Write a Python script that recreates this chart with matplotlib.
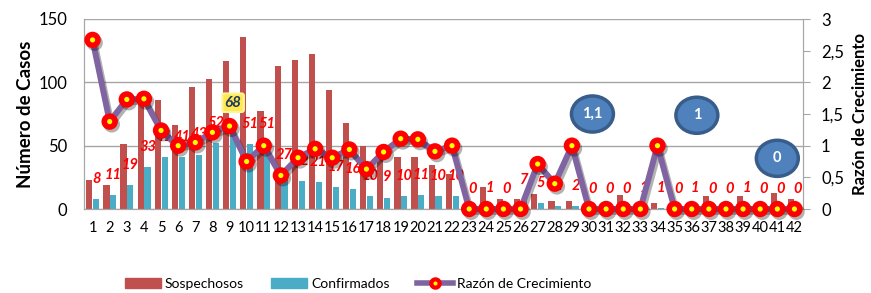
import matplotlib.pyplot as plt
import matplotlib.patheffects as pe
from matplotlib.patches import Ellipse
from matplotlib.lines import Line2D
from matplotlib.patches import Patch
from matplotlib.ticker import FuncFormatter

plt.rcParams['font.family'] = ['Lato', 'DejaVu Sans']

# data
dias = list(range(1, 43))
sospechosos = [23, 19, 51, 86, 86, 66, 96, 103, 117, 136, 77, 113, 118, 122,
               94, 68, 50, 43, 41, 41, 35, 28, 3, 17, 8, 8, 12, 6, 6, 3,
               3, 11, 3, 5, 2, 3, 10, 3, 10, 3, 13, 8]
confirmados = [8, 11, 19, 33, 41, 41, 43, 52, 68, 51, 51, 27, 22, 21, 17, 16,
               10, 9, 10, 11, 10, 10, 0, 1, 0, 7, 5, 2, 2, 0, 0, 0, 1, 1,
               0, 1, 0, 0, 1, 0, 0, 0]
razon = [2.67, 1.38, 1.73, 1.74, 1.24, 1.0, 1.05, 1.21, 1.31, 0.75, 1.0, 0.53,
         0.81, 0.95, 0.81, 0.94, 0.63, 0.9, 1.11, 1.1, 0.91, 1.0, 0, 0, 0, 0,
         0.71, 0.4, 1.0, 0, 0, 0, 0, 1.0, 0, 0, 0, 0, 0, 0, 0, 0]
# blue callouts: (x, y on ratio axis, text)
burbujas = [(30.2, 1.5, "1,1"), (36.3, 1.48, "1"), (41.0, 0.8, "0")]

ROJO = "#C0504D"
AZUL = "#4BACC6"
MORADO = "#8064A2"
GRIS = "#A6A6A6"

fig = plt.figure(figsize=(8.71, 2.93), dpi=100)
ax = fig.add_axes([84 / 871, 1 - 209 / 293, 719 / 871, 190 / 293])
ax2 = ax.twinx()

# bars
xr = [d - 0.19 for d in dias]
xb = [d + 0.21 for d in dias]
ax.bar(xr, sospechosos, width=0.36, color=ROJO, zorder=2)
ax.bar(xb, confirmados, width=0.36, color=AZUL, zorder=2)

# data labels for confirmados
for x, v, d in zip(xb, confirmados, dias):
    if d == 9:
        ax.annotate(str(v), (x, v), xytext=(0, 14.5), textcoords="offset points",
                    ha="center", va="center", fontsize=11, fontweight="bold",
                    fontstyle="italic", color="#1F3864", zorder=5,
                    bbox=dict(boxstyle="round,pad=0.15", fc="#FFE94D", ec="#FFF3A0", lw=1.5))
    else:
        ax.annotate(str(v), (x, v), xytext=(0, 14.5), textcoords="offset points",
                    ha="center", va="center", fontsize=10.5, fontweight="bold",
                    fontstyle="italic", color="#FF0000", zorder=5)

ax.set_xlim(0.5, 42.5)
ax.set_ylim(0, 150)
ax.set_yticks([0, 50, 100, 150])
ax.set_xticks(dias)
ax.set_xticklabels([str(d) for d in dias], fontsize=10.5)
ax.tick_params(axis="x", length=0, pad=9)
ax.tick_params(axis="y", length=0, labelsize=12, pad=12)
ax.grid(axis="y", color=GRIS, lw=1, zorder=0)
ax.set_axisbelow(True)
ax.set_ylabel("Número de Casos", fontsize=13.5, fontweight="bold", labelpad=3)

# ratio line
ax2.plot(dias, razon, color=MORADO, lw=4.3, marker="o", ms=7.8, mfc="#FFFF00",
         mec="#FF0000", mew=4, zorder=3, clip_on=False,
         path_effects=[pe.SimpleLineShadow(offset=(1.5, -2), shadow_color="k", alpha=0.3),
                       pe.Normal()])
ax2.set_ylim(0, 3)
ax2.set_yticks([0, 0.5, 1, 1.5, 2, 2.5, 3])
ax2.yaxis.set_major_formatter(FuncFormatter(lambda v, p: f"{v:g}".replace(".", ",")))
ax2.tick_params(axis="y", direction="out", length=5, color=GRIS, labelsize=12, pad=8)
ax2.set_ylabel("Razón de Crecimiento", fontsize=12, fontweight="bold", labelpad=6)

for bx, by, t in burbujas:
    ax2.add_patch(Ellipse((bx, by), 2.45, 0.57, fc="#4F81BD", ec="#385D8A", lw=2.5, zorder=6))
    ax2.text(bx, by, t, ha="center", va="center", color="white", fontsize=10.5,
             fontweight="bold", zorder=7)

for a in (ax, ax2):
    for s in a.spines.values():
        s.set_color(GRIS)
    a.spines["top"].set_visible(False)

handles = [Patch(color=ROJO), Patch(color=AZUL),
           Line2D([0], [0], color=MORADO, lw=4, marker="o", ms=6, mfc="#FFFF00",
                  mec="#FF0000", mew=3)]
fig.legend(handles, ["Sospechosos", "Confirmados", "Razón de Crecimiento"],
           loc="center", bbox_to_anchor=(358 / 871, 1 - 284 / 293), ncol=3,
           frameon=False, fontsize=10, handlelength=2.6, handleheight=0.7,
           handletextpad=0.25, columnspacing=2.0)

plt.savefig("out.png", dpi=100)
